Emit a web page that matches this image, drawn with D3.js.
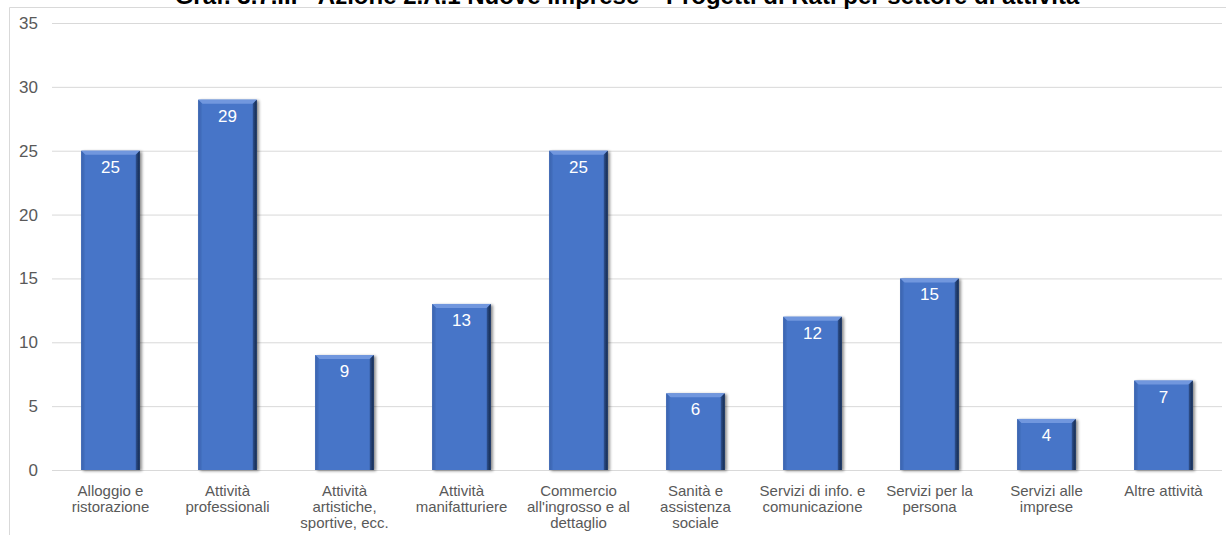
<!DOCTYPE html>
<html>
<head>
<meta charset="utf-8">
<script src="https://cdn.jsdelivr.net/npm/d3@7"></script>
<style>
  html, body { margin: 0; padding: 0; background: #fff; }
  svg { display: block; font-family: "Liberation Sans", Arial, sans-serif; }
</style>
</head>
<body>
<svg id="chart" width="1226" height="535"></svg>
<script>
// Projects per sector
const categories = [
  "Alloggio e ristorazione",
  "Attività professionali",
  "Attività artistiche, sportive, ecc.",
  "Attività manifatturiere",
  "Commercio all'ingrosso e al dettaglio",
  "Sanità e assistenza sociale",
  "Servizi di info. e comunicazione",
  "Servizi per la persona",
  "Servizi alle imprese",
  "Altre attività"
];
const categoryLines = [
  ["Alloggio e", "ristorazione"],
  ["Attività", "professionali"],
  ["Attività", "artistiche,", "sportive, ecc."],
  ["Attività", "manifatturiere"],
  ["Commercio", "all'ingrosso e al", "dettaglio"],
  ["Sanità e", "assistenza", "sociale"],
  ["Servizi di info. e", "comunicazione"],
  ["Servizi per la", "persona"],
  ["Servizi alle", "imprese"],
  ["Altre attività"]
];
const values = [25, 29, 9, 13, 25, 6, 12, 15, 4, 7];
const yTicks = [0, 5, 10, 15, 20, 25, 30, 35];
const title = "Graf. 3.7.III - Azione 2.A.1 Nuove imprese – Progetti di Rati per settore di attività";

const svg = d3.select("#chart");
const W = 1226, H = 535;
const plot = { left: 52, right: 1222, top: 23, bottom: 470 };

// chart frame (extends past the page edge on right and bottom)
svg.append("path")
  .attr("d", `M9.5,${H + 2} V7.5 H${W + 2}`)
  .attr("fill", "none").attr("stroke", "#d9d9d9").attr("stroke-width", 1);

// title sits above the frame, partly outside the page
svg.append("text")
  .attr("x", 627).attr("y", 4)
  .attr("text-anchor", "middle")
  .attr("font-size", 24).attr("font-weight", "bold").attr("fill", "#000")
  .text(title);

const x = d3.scaleBand().domain(categories).range([plot.left, plot.right]).paddingInner(0.5).paddingOuter(0.25);
const y = d3.scaleLinear().domain([0, 35]).range([plot.bottom, plot.top]);

// gridlines and value axis
const yAxis = d3.axisLeft(y).tickValues(yTicks).tickSize(-(plot.right - plot.left)).tickPadding(14);
const gy = svg.append("g").attr("transform", `translate(${plot.left},0)`).call(yAxis);
gy.select(".domain").remove();
gy.selectAll(".tick line").attr("stroke", "#d9d9d9").attr("stroke-width", 1);
gy.selectAll(".tick text").attr("fill", "#595959").attr("font-size", 17)
  .attr("font-family", "'Liberation Sans', Arial, sans-serif");

const defs = svg.append("defs");
const shadow = defs.append("filter").attr("id", "shadow")
  .attr("x", "-20%").attr("y", "-10%").attr("width", "140%").attr("height", "120%");
shadow.append("feGaussianBlur").attr("in", "SourceAlpha").attr("stdDeviation", 1.5).attr("result", "b");
shadow.append("feOffset").attr("in", "b").attr("dx", 2).attr("dy", 1).attr("result", "o");
shadow.append("feComponentTransfer").attr("in", "o").attr("result", "s")
  .append("feFuncA").attr("type", "linear").attr("slope", 0.45);
const m = shadow.append("feMerge");
m.append("feMergeNode").attr("in", "s");
m.append("feMergeNode").attr("in", "SourceGraphic");

const rightGrad = defs.append("linearGradient").attr("id", "rightBevel").attr("x1", 0).attr("x2", 1);
rightGrad.append("stop").attr("offset", 0).attr("stop-color", "#2f528f");
rightGrad.append("stop").attr("offset", 1).attr("stop-color", "#14264a");
const leftGrad = defs.append("linearGradient").attr("id", "leftBevel").attr("x1", 0).attr("x2", 1);
leftGrad.append("stop").attr("offset", 0).attr("stop-color", "#3a62ac");
leftGrad.append("stop").attr("offset", 1).attr("stop-color", "#4472c4");

const bevel = 4;
const bars = svg.append("g").selectAll("g.bar").data(values).enter().append("g")
  .attr("class", "bar")
  .attr("filter", "url(#shadow)");

bars.each(function (v, i) {
  const g = d3.select(this);
  const x0 = x(categories[i]), w = x.bandwidth();
  const x1 = x0 + w;
  const y0 = y(v), y1 = y(0);
  g.append("rect").attr("x", x0).attr("y", y0).attr("width", w).attr("height", y1 - y0).attr("fill", "#4775c8");
  // top bevel
  g.append("path").attr("d", `M${x0},${y0} H${x1} L${x1 - bevel},${y0 + bevel} H${x0 + bevel} Z`).attr("fill", "#7197de");
  // left bevel
  g.append("path").attr("d", `M${x0},${y0} L${x0 + bevel},${y0 + bevel} V${y1} H${x0} Z`).attr("fill", "url(#leftBevel)");
  // right bevel
  g.append("path").attr("d", `M${x1},${y0} L${x1 - bevel},${y0 + bevel} V${y1} H${x1} Z`).attr("fill", "url(#rightBevel)");
});

// value labels
svg.append("g").selectAll("text").data(values).enter().append("text")
  .attr("x", (d, i) => x(categories[i]) + x.bandwidth() / 2)
  .attr("y", d => y(d) + 22)
  .attr("text-anchor", "middle")
  .attr("font-size", 17).attr("fill", "#fff")
  .text(d => d);

// category labels
const cat = svg.append("g").selectAll("text").data(categoryLines).enter().append("text")
  .attr("x", (d, i) => x(categories[i]) + x.bandwidth() / 2)
  .attr("y", 496)
  .attr("text-anchor", "middle")
  .attr("font-size", 15).attr("fill", "#595959");
cat.each(function (lines) {
  const t = d3.select(this);
  lines.forEach((l, j) => {
    t.append("tspan").attr("x", t.attr("x")).attr("dy", j === 0 ? 0 : 16).text(l);
  });
});
</script>
</body>
</html>
